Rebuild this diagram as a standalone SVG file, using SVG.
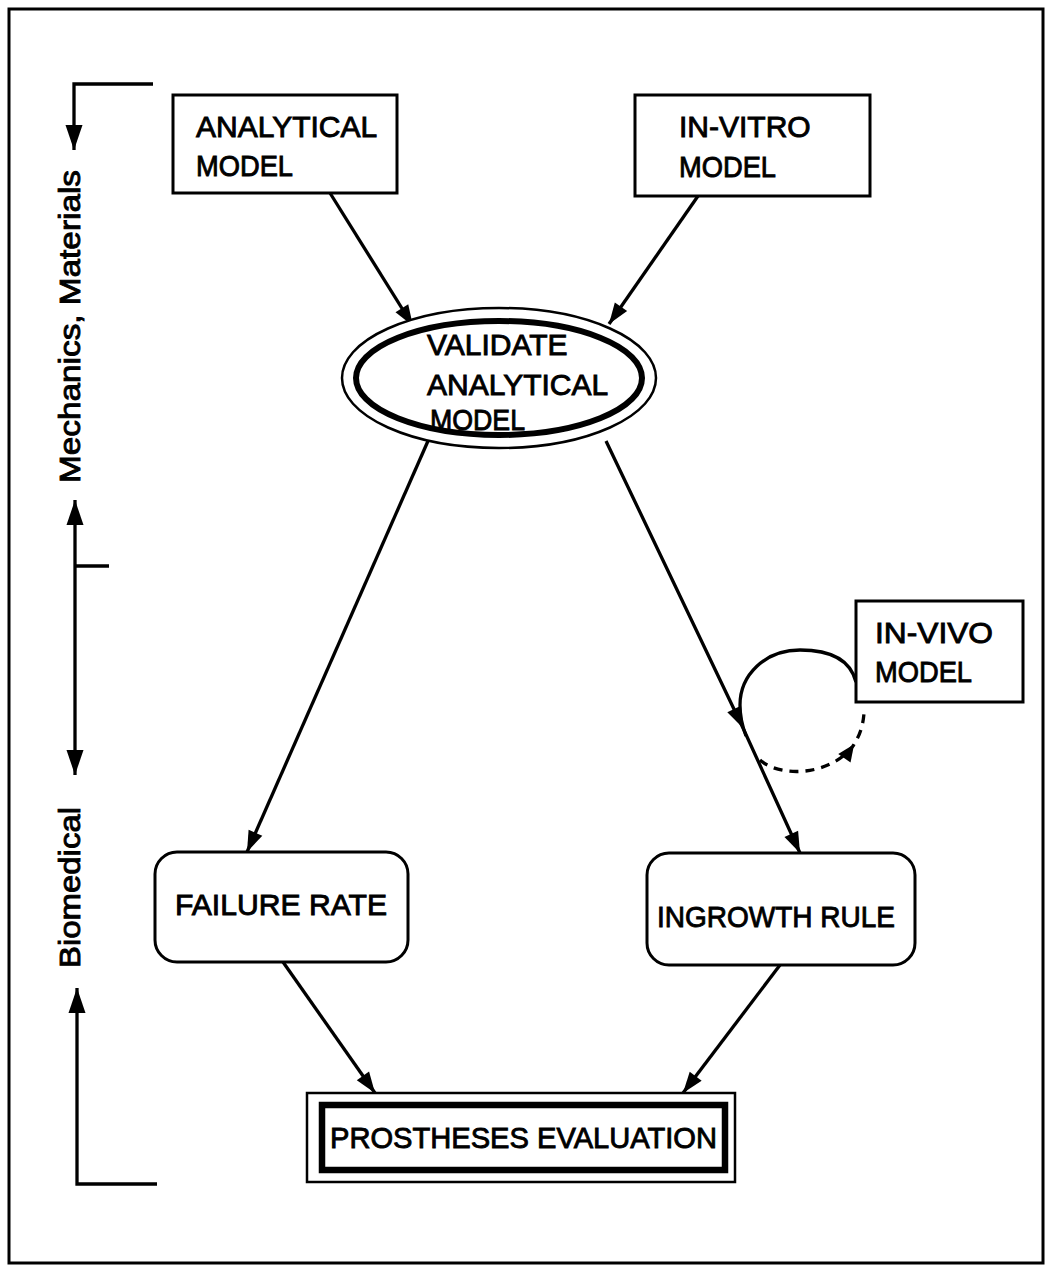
<svg xmlns="http://www.w3.org/2000/svg" width="1047" height="1279" viewBox="0 0 1047 1279">
  <style>
    .t { font-family: "Liberation Sans", Arial, sans-serif; font-size: 30px; fill: #000; stroke: #000; stroke-width: 0.9; }
    .box { fill: #fff; stroke: #000; stroke-width: 3; }
    .conn { fill: none; stroke: #000; stroke-width: 3.3; }
    .dash { fill: none; stroke: #000; stroke-width: 3.3; stroke-dasharray: 9 7; }
  </style>
  <defs>
    <marker id="ah" viewBox="-24 -10 26 20" refX="0" refY="0" markerWidth="26" markerHeight="20" markerUnits="userSpaceOnUse" orient="auto">
      <path d="M0,0 L-21,-7.5 L-21,7.5 Z" fill="#000"/>
    </marker>
    <marker id="ahb" viewBox="-27 -10 29 20" refX="0" refY="0" markerWidth="29" markerHeight="20" markerUnits="userSpaceOnUse" orient="auto">
      <path d="M0,0 L-25,-8.5 L-25,8.5 Z" fill="#000"/>
    </marker>
    <marker id="ahs" viewBox="-18 -9 20 18" refX="0" refY="0" markerWidth="20" markerHeight="18" markerUnits="userSpaceOnUse" orient="auto">
      <path d="M2,0 L-15,-7.5 L-15,7.5 Z" fill="#000"/>
    </marker>
  </defs>

  <rect width="1047" height="1279" fill="#fff"/>
  <!-- outer frame -->
  <rect x="9" y="9" width="1034" height="1254" fill="none" stroke="#000" stroke-width="3"/>

  <!-- side brackets and labels -->
  <g id="side-labels">
    <path class="conn" d="M153,84 H74 V150" marker-end="url(#ahb)"/>
    <path class="conn" d="M75,640 V500" marker-end="url(#ahb)"/>
    <path class="conn" d="M75,640 V775" marker-end="url(#ahb)"/>
    <path class="conn" d="M75,566 H109"/>
    <path class="conn" d="M157,1184 H77 V988" marker-end="url(#ahb)"/>
    <text class="t" transform="translate(80,483) rotate(-90)" textLength="313" lengthAdjust="spacingAndGlyphs" font-size="31">Mechanics, Materials</text>
    <text class="t" transform="translate(80,968) rotate(-90)" textLength="161" lengthAdjust="spacingAndGlyphs" font-size="31">Biomedical</text>
  </g>

  <!-- connectors -->
  <g id="connectors">
    <path class="conn" d="M330,193 L413,326" marker-end="url(#ah)"/>
    <path class="conn" d="M698,196 L609,324" marker-end="url(#ah)"/>
    <path class="conn" d="M428,441 L247,852" marker-end="url(#ah)"/>
    <path class="conn" d="M606,441 L743,728 L800,853" marker-mid="url(#ah)" marker-end="url(#ah)"/>
    <path class="conn" d="M283,962 L375,1093" marker-end="url(#ah)"/>
    <path class="conn" d="M780,965 L683,1093" marker-end="url(#ah)"/>
    <!-- in-vivo loop -->
    <path class="conn" d="M856,682 C850,658 828,650 800,650 C765,650 740,675 740,705 C740,718 743,728 746,736"/>
    <path class="dash" d="M760,760 C780,778 830,776 853,746 C860,735 863,726 864,713" marker-mid="url(#ahs)"/>
  </g>

  <!-- nodes -->
  <g id="analytical-model">
    <rect class="box" x="173" y="95" width="224" height="98"/>
    <text class="t" x="196" y="137">ANALYTICAL</text>
    <text class="t" x="196" y="176" textLength="97" lengthAdjust="spacingAndGlyphs">MODEL</text>
  </g>
  <g id="in-vitro-model">
    <rect class="box" x="635" y="95" width="235" height="101"/>
    <text class="t" x="679" y="137">IN-VITRO</text>
    <text class="t" x="679" y="177" textLength="97" lengthAdjust="spacingAndGlyphs">MODEL</text>
  </g>
  <g id="validate-analytical-model">
    <ellipse cx="499" cy="378" rx="157" ry="70" fill="#fff" stroke="#000" stroke-width="2.5"/>
    <ellipse cx="499" cy="378" rx="143" ry="57" fill="none" stroke="#000" stroke-width="6"/>
    <text class="t" x="427" y="355">VALIDATE</text>
    <text class="t" x="427" y="395">ANALYTICAL</text>
    <text class="t" x="430" y="430" textLength="95" lengthAdjust="spacingAndGlyphs">MODEL</text>
  </g>
  <g id="in-vivo-model">
    <rect class="box" x="856" y="601" width="167" height="101"/>
    <text class="t" x="875" y="643" textLength="118" lengthAdjust="spacingAndGlyphs">IN-VIVO</text>
    <text class="t" x="875" y="682" textLength="97" lengthAdjust="spacingAndGlyphs">MODEL</text>
  </g>
  <g id="failure-rate">
    <rect class="box" x="155" y="852" width="253" height="110" rx="22" ry="22"/>
    <text class="t" x="175" y="915" textLength="212" lengthAdjust="spacingAndGlyphs">FAILURE RATE</text>
  </g>
  <g id="ingrowth-rule">
    <rect class="box" x="647" y="853" width="268" height="112" rx="22" ry="22"/>
    <text class="t" x="657" y="927" textLength="238" lengthAdjust="spacingAndGlyphs">INGROWTH RULE</text>
  </g>
  <g id="prostheses-evaluation">
    <rect x="307" y="1093" width="428" height="89" fill="#fff" stroke="#000" stroke-width="2.5"/>
    <rect x="322" y="1105" width="403" height="65" fill="none" stroke="#000" stroke-width="6.5"/>
    <text class="t" x="330" y="1148" font-size="36" textLength="387" lengthAdjust="spacingAndGlyphs">PROSTHESES  EVALUATION</text>
  </g>
</svg>
